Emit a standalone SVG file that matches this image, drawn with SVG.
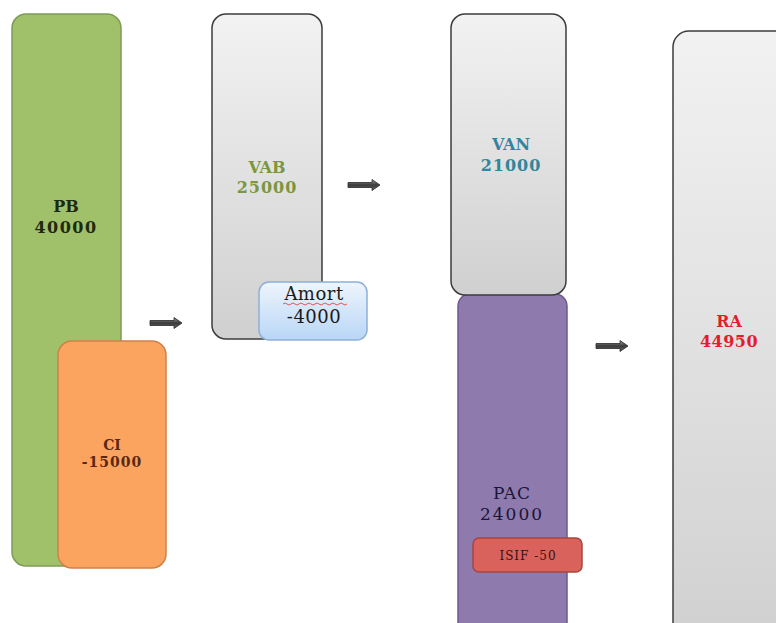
<svg xmlns="http://www.w3.org/2000/svg" width="776" height="623" viewBox="0 0 776 623">
<defs>
<linearGradient id="gray" x1="0" y1="0" x2="0" y2="1">
<stop offset="0" stop-color="#f2f2f2"/>
<stop offset="1" stop-color="#d0d0d0"/>
</linearGradient>
<linearGradient id="blue" x1="0" y1="0" x2="0" y2="1">
<stop offset="0" stop-color="#eef5fd"/>
<stop offset="1" stop-color="#b9d6f6"/>
</linearGradient>
<linearGradient id="arrowg" x1="0" y1="0" x2="0" y2="1">
<stop offset="0" stop-color="#9a9a9a"/>
<stop offset="0.5" stop-color="#3a3a3a"/>
<stop offset="1" stop-color="#6a6a6a"/>
</linearGradient>
</defs>
<style>
.lbl{font-family:"DejaVu Serif","Liberation Serif",serif;text-anchor:middle;font-weight:bold}
.reg{font-family:"DejaVu Serif","Liberation Serif",serif;text-anchor:middle}
.grayBox{fill:url(#gray);stroke:#3c3c3c;stroke-width:1.5}
.arrow{fill:url(#arrowg);stroke:#2a2a2a;stroke-width:0.8}
</style>
<rect width="776" height="623" fill="#ffffff"/>
<g id="PB">
<rect x="12" y="14" width="109" height="552" rx="14" fill="#a0c16a" stroke="#7e9c55" stroke-width="1.5"/>
<text class="lbl" x="66" y="212" font-size="16" fill="#1e2a10">PB</text>
<text class="lbl" x="66" y="233" font-size="16" fill="#1e2a10" letter-spacing="1.5">40000</text>
</g>
<g id="CI">
<rect x="58" y="341" width="108" height="227" rx="14" fill="#fba460" stroke="#cf8148" stroke-width="1.5"/>
<text class="lbl" x="112" y="450" font-size="14" fill="#5a2812">CI</text>
<text class="lbl" x="112" y="467" font-size="14" fill="#5a2812" letter-spacing="1">-15000</text>
</g>
<g id="VAB">
<rect class="grayBox" x="212" y="14" width="110" height="325" rx="14"/>
<text class="lbl" x="267" y="173" font-size="16" fill="#7a9640">VAB</text>
<text class="lbl" x="267" y="193" font-size="16" fill="#7a9640" letter-spacing="1">25000</text>
</g>
<g id="Amort">
<rect x="259" y="282" width="108" height="58" rx="10" fill="url(#blue)" stroke="#8fb0d6" stroke-width="1.5"/>
<text class="reg" x="314" y="300" font-size="18" fill="#1a1a1a" letter-spacing="0.5">Amort</text>
<path d="M283 304 q2 -2 4 0 t4 0 t4 0 t4 0 t4 0 t4 0 t4 0 t4 0 t4 0 t4 0 t4 0 t4 0 t4 0 t4 0 t4 0 t4 0" fill="none" stroke="#e03030" stroke-width="0.8"/>
<text class="reg" x="314" y="323" font-size="18" fill="#1a1a1a" letter-spacing="0.5">-4000</text>
</g>
<g id="PAC">
<rect x="458" y="294" width="109" height="345" rx="12" fill="#8f7aae" stroke="#6d5a8e" stroke-width="1.5"/>
<text class="reg" x="512" y="499" font-size="17" fill="#1a1535" letter-spacing="1">PAC</text>
<text class="reg" x="512" y="520" font-size="17" fill="#1a1535" letter-spacing="2">24000</text>
</g>
<g id="VAN">
<rect class="grayBox" x="451" y="14" width="115" height="281" rx="14"/>
<text class="lbl" x="511" y="150" font-size="16" fill="#31869b">VAN</text>
<text class="lbl" x="511" y="171" font-size="16" fill="#31869b" letter-spacing="1">21000</text>
</g>
<g id="ISIF">
<rect x="473" y="538" width="109" height="34" rx="6" fill="#d9625c" stroke="#a8453f" stroke-width="1.5"/>
<text class="reg" x="528" y="560" font-size="12" fill="#3a1010" letter-spacing="1">ISIF -50</text>
</g>
<g id="RA">
<rect class="grayBox" x="673" y="31" width="130" height="620" rx="16"/>
<text class="lbl" x="729" y="327" font-size="16" fill="#e41d2c">RA</text>
<text class="lbl" x="729" y="347" font-size="16" fill="#e41d2c" letter-spacing="0.5">44950</text>
</g>
<g id="connectors">
<path class="arrow" d="M150 320.5 H174 V317.5 L182 323 L174 328.5 V325.5 H150 Z"/>
<path class="arrow" d="M348 182.5 H372 V179.5 L380 185 L372 190.5 V187.5 H348 Z"/>
<path class="arrow" d="M596 343.5 H620 V340.5 L628 346 L620 351.5 V348.5 H596 Z"/>
</g>
</svg>
